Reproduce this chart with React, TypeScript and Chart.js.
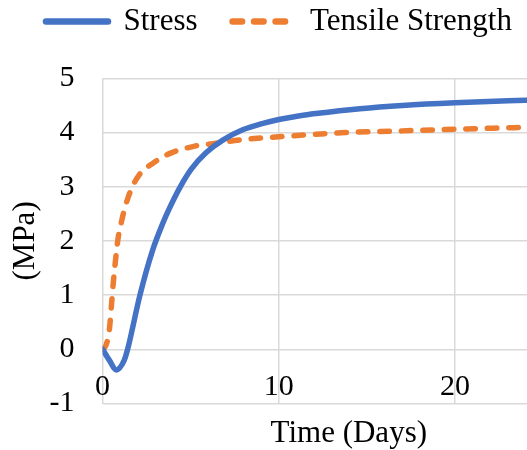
import { useEffect, useRef } from 'react';
import { Chart, registerables } from 'chart.js';

Chart.register(...registerables);

// Series names shown in the legend
const seriesNames = ['Stress', 'Tensile Strength'];

// Stress development (MPa) over time (days)
const stressDays = [0, 0.38, 0.78, 1.23, 1.42, 2.12, 2.84, 3.41, 3.79, 4.36, 5.02, 5.88, 6.82, 7.95, 9.1, 10, 11.2, 12.1, 14.6, 17, 20, 24.5];
const stressMPa = [0, -0.2, -0.38, -0.2, 0, 1.0, 1.83, 2.32, 2.6, 2.97, 3.32, 3.63, 3.86, 4.05, 4.17, 4.24, 4.31, 4.35, 4.44, 4.5, 4.55, 4.6];

// Tensile strength development (MPa) over time (days)
const tensileDays = [0, 0.2, 0.38, 0.5, 0.6, 0.72, 0.88, 1.05, 1.23, 1.61, 2.08, 2.84, 3.79, 5.11, 6.44, 7.95, 10, 13.8, 17, 20, 24.5];
const tensileMPa = [0, 0.08, 0.35, 0.8, 1.2, 1.6, 2.05, 2.32, 2.57, 2.94, 3.22, 3.43, 3.61, 3.74, 3.8, 3.87, 3.92, 4.0, 4.03, 4.06, 4.1];

// Axis ticks and titles
const xTickValues = [0, 10, 20];
const yTickValues = [-1, 0, 1, 2, 3, 4, 5];
const xTitle = 'Time (Days)';
const yTitle = '(MPa)';

const BLUE = '#4472C4';
const ORANGE = '#ED7D31';
const GRID = '#d9d9d9';
const FONT_FAMILY = '"Liberation Serif", "Times New Roman", serif';

// The plot runs on past the right edge of the visible frame.
const CANVAS_WIDTH = 595;
const CANVAS_HEIGHT = 450;

function toPoints(xs: number[], ys: number[]) {
  return xs.map((x, i) => ({ x, y: ys[i] }));
}

export default function App() {
  const canvasRef = useRef<HTMLCanvasElement>(null);

  useEffect(() => {
    const canvas = canvasRef.current;
    if (!canvas) return;

    const lineStyle = {
      borderWidth: 5.5,
      borderCapStyle: 'round' as const,
      borderJoinStyle: 'round' as const,
      pointRadius: 0,
      pointHoverRadius: 0,
      cubicInterpolationMode: 'monotone' as const,
      fill: false,
    };

    const chart = new Chart(canvas, {
      type: 'line',
      data: {
        datasets: [
          {
            label: seriesNames[0],
            data: toPoints(stressDays, stressMPa),
            borderColor: BLUE,
            backgroundColor: BLUE,
            ...lineStyle,
          },
          {
            label: seriesNames[1],
            data: toPoints(tensileDays, tensileMPa),
            borderColor: ORANGE,
            backgroundColor: ORANGE,
            borderDash: [9.5, 12],
            ...lineStyle,
          },
        ],
      },
      options: {
        animation: false,
        responsive: false,
        events: [],
        layout: { autoPadding: false, padding: { top: -29, left: 11, right: 0, bottom: 0 } },
        plugins: {
          legend: {
            display: true,
            position: 'top',
            align: 'start',
            labels: {
              usePointStyle: true,
              pointStyle: 'line',
              pointStyleWidth: 62,
              boxWidth: 62,
              padding: 35,
              color: '#000',
              font: { family: FONT_FAMILY, size: 31 },
              generateLabels: (c: Chart) =>
                c.data.datasets.map((ds: any, i: number) => ({
                  text: ds.label,
                  fillStyle: ds.borderColor,
                  strokeStyle: ds.borderColor,
                  lineWidth: 6.5,
                  lineDash: ds.borderDash || [],
                  lineCap: 'round',
                  pointStyle: 'line',
                  fontColor: '#000',
                  hidden: false,
                  datasetIndex: i,
                })),
            },
          },
          // spacer between the legend and the plot
          title: {
            display: true,
            text: '',
            position: 'top',
            weight: 500,
            padding: { top: 19.3, bottom: 0 },
            font: { size: 10 },
          },
          tooltip: { enabled: false },
        },
        scales: {
          x: {
            type: 'linear',
            min: 0,
            max: 27.94,
            afterBuildTicks: (scale: any) => {
              scale.ticks = xTickValues.map((value) => ({ value }));
            },
            ticks: {
              // labels sit just under the zero line, inside the plot
              mirror: true,
              padding: -1.5,
              color: '#000',
              maxRotation: 0,
              font: { family: FONT_FAMILY, size: 30 },
            },
            grid: { color: GRID, lineWidth: 1.5, drawTicks: false },
            border: { display: false },
            title: {
              display: true,
              text: xTitle,
              color: '#000',
              font: { family: FONT_FAMILY, size: 31 },
              padding: { top: 14.4, bottom: -2.1 },
            },
          },
          y: {
            type: 'linear',
            min: -1,
            max: 5,
            afterBuildTicks: (scale: any) => {
              scale.ticks = yTickValues.map((value) => ({ value }));
            },
            ticks: {
              padding: 28,
              color: '#000',
              font: { family: FONT_FAMILY, size: 30 },
            },
            grid: { color: GRID, lineWidth: 1.5, drawTicks: false },
            border: { display: false },
            title: {
              display: true,
              text: yTitle,
              color: '#000',
              font: { family: FONT_FAMILY, size: 31 },
              padding: { top: -4.1, bottom: -22.5 },
            },
          },
        },
      },
    } as any);

    return () => chart.destroy();
  }, []);

  return (
    <div style={{ position: 'fixed', left: 0, top: 0, width: 527, height: 450, background: '#fff', overflow: 'hidden' }}>
      <canvas ref={canvasRef} width={CANVAS_WIDTH} height={CANVAS_HEIGHT} style={{ display: 'block' }} />
    </div>
  );
}
